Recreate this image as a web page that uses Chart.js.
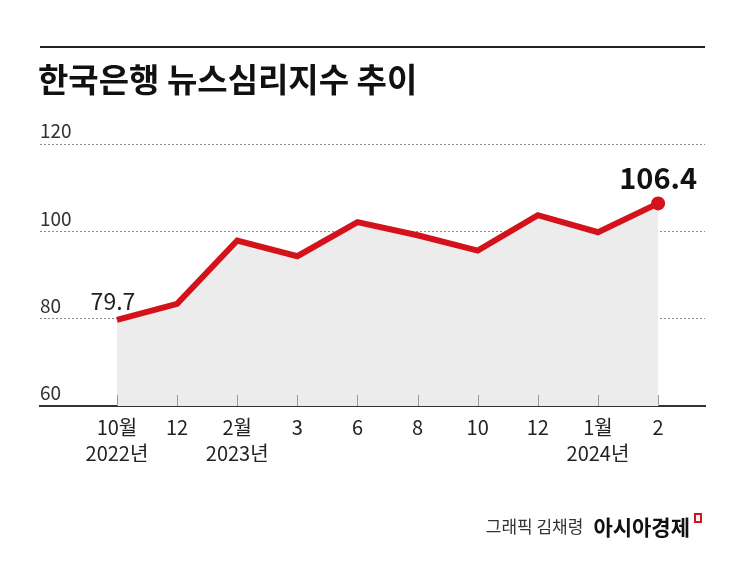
<!DOCTYPE html>
<html>
<head>
<meta charset="utf-8">
<script src="https://cdn.jsdelivr.net/npm/chart.js@4/dist/chart.umd.min.js"></script>
<style>
  html, body { margin: 0; padding: 0; background: #fff; }
  #wrap { width: 745px; height: 568px; position: relative; }
</style>
</head>
<body>
<div id="wrap"><canvas id="newsChart"></canvas></div>
<script>
// 한국은행 뉴스심리지수
const months = ['10월', '12', '2월', '3', '6', '8', '10', '12', '1월', '2'];
const years = ['2022년', '', '2023년', '', '', '', '', '', '2024년', ''];
const newsIndex = [79.7, 83.4, 97.9, 94.3, 102.1, 99.1, 95.6, 103.7, 99.8, 106.4];
const yTicks = [60, 80, 100, 120];

const KR = '"Noto Sans CJK KR", "Noto Sans", sans-serif';
const RED = '#d3121b';

// title, top rule, footer, value labels, small tick marks
const decor = {
    id: 'decor',
    afterDraw(chart) {
        const ctx = chart.ctx;
        const x = chart.scales.x, y = chart.scales.y;
        ctx.save();
        // top rule
        ctx.fillStyle = '#222';
        ctx.fillRect(40, 46, 665, 2);
        // title
        ctx.font = 'bold 33px ' + KR;
        ctx.textAlign = 'left';
        ctx.textBaseline = 'middle';
        ctx.fillStyle = '#111';
        ctx.fillText('한국은행 뉴스심리지수 추이', 38, 79);

        // tick marks above the axis
        ctx.strokeStyle = '#999';
        ctx.lineWidth = 1;
        newsIndex.forEach((v, i) => {
            const px = Math.round(x.getPixelForValue(i)) + 0.5;
            ctx.beginPath();
            ctx.moveTo(px, y.bottom - 11);
            ctx.lineTo(px, y.bottom);
            ctx.stroke();
        });

        // value labels
        const first = newsIndex[0], last = newsIndex[newsIndex.length - 1];
        ctx.fillStyle = '#222';
        ctx.textAlign = 'center';
        ctx.font = '23px ' + KR;
        ctx.fillText(first.toFixed(1), x.getPixelForValue(0) - 4, y.getPixelForValue(first) - 19);
        ctx.font = 'bold 29px ' + KR;
        ctx.fillStyle = '#111';
        ctx.fillText(last.toFixed(1), x.getPixelForValue(newsIndex.length - 1), y.getPixelForValue(last) - 25);

        // footer
        ctx.textAlign = 'right';
        ctx.fillStyle = RED;
        ctx.fillRect(694, 513, 2, 10);
        ctx.fillRect(694, 513, 8, 2);
        ctx.fillRect(700, 513, 2, 8);
        ctx.fillRect(694, 521, 8, 2);
        ctx.font = 'bold 21px ' + KR;
        ctx.fillStyle = '#111';
        ctx.fillText('아시아경제', 690, 527);
        const w = ctx.measureText('아시아경제').width;
        ctx.font = '17px ' + KR;
        ctx.fillStyle = '#333';
        ctx.fillText('그래픽 김채령', 690 - w - 10, 527);
        ctx.restore();
    }
};

new Chart(document.getElementById('newsChart'), {
    type: 'line',
    data: {
        datasets: [{
            data: newsIndex.map((v, i) => ({ x: i, y: v })),
            borderColor: RED,
            borderWidth: 6,
            backgroundColor: '#ececec',
            fill: 'start',
            pointRadius: newsIndex.map((v, i) => i === newsIndex.length - 1 ? 7 : 0),
            pointBackgroundColor: RED,
            pointBorderWidth: 0,
            tension: 0
        }]
    },
    options: {
        responsive: true,
        maintainAspectRatio: false,
        animation: false,
        events: [],
        layout: { padding: { left: 40, right: 40, top: 144, bottom: 102 } },
        plugins: {
            legend: { display: false },
            tooltip: { enabled: false }
        },
        scales: {
            x: {
                type: 'linear',
                min: -1.28,
                max: 9.78,
                afterBuildTicks: axis => { axis.ticks = months.map((m, i) => ({ value: i })); },
                grid: { display: false },
                border: { display: true, color: '#333', width: 2 },
                ticks: {
                    autoSkip: false,
                    maxRotation: 0,
                    padding: 0,
                    color: '#222',
                    font: { family: KR, size: 20, lineHeight: 1.3 },
                    callback: (v) => years[v] ? [months[v], years[v]] : months[v]
                }
            },
            y: {
                min: 60,
                max: 120,
                afterBuildTicks: axis => { axis.ticks = yTicks.map(v => ({ value: v })); },
                border: { display: false, dash: [2, 2] },
                grid: {
                    color: ctx => ctx.tick.value === 60 ? 'rgba(0,0,0,0)' : '#888',
                    drawTicks: false
                },
                ticks: {
                    mirror: true,
                    padding: 0,
                    labelOffset: -13,
                    color: '#333',
                    font: { family: KR, size: 19 }
                }
            }
        }
    },
    plugins: [decor]
});
</script>
</body>
</html>
